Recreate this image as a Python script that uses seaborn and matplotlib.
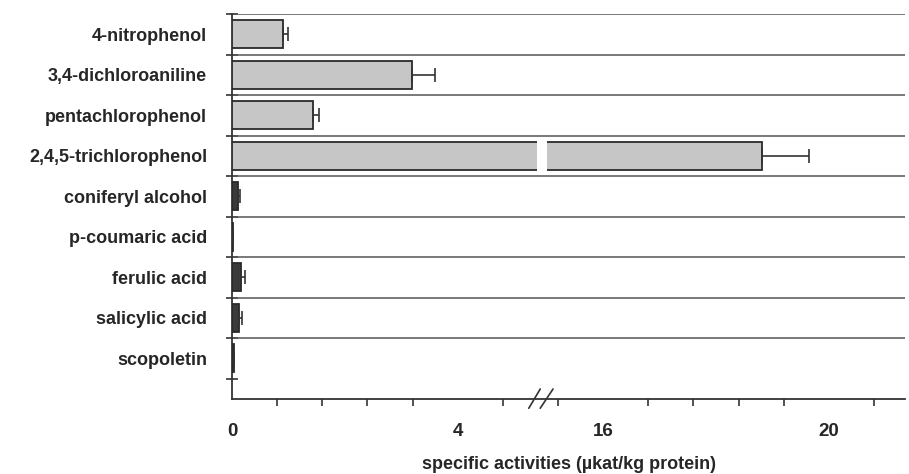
import numpy as np
import pandas as pd
import matplotlib
matplotlib.use("Agg")
import matplotlib.pyplot as plt
import seaborn as sns
from matplotlib.patches import Rectangle
from matplotlib.ticker import FixedLocator

# data
compounds = ["4-nitrophenol", "3,4-dichloroaniline", "pentachlorophenol",
             "2,4,5-trichlorophenol", "coniferyl alcohol", "p-coumaric acid",
             "ferulic acid", "salicylic acid", "scopoletin"]
activity = [0.90, 3.19, 1.44, 18.81, 0.10, 0.02, 0.16, 0.12, 0.03]
activity_err = [0.10, 0.41, 0.11, 0.83, 0.04, 0.0, 0.07, 0.06, 0.0]
major_ticks = [0, 4, 16, 20]
minor_ticks = [0.8, 1.6, 2.4, 3.2, 4.8, 15.2, 16.8, 17.6, 18.4, 19.2, 20.8]

# broken axis: [0, a] shown as is, (a, b) squeezed into gap g, [b, ...] shifted
a, b, g = 5.41, 15.01, 0.18
shift = b - (a + g)

def fwd(x):
    x = np.asarray(x, dtype=float)
    return np.where(x <= a, x, np.where(x >= b, x - shift, a + (x - a) * g / (b - a)))

def inv(t):
    t = np.asarray(t, dtype=float)
    return np.where(t <= a, t, np.where(t >= a + g, t + shift, a + (t - a) * (b - a) / g))

sns.set_style("white")
plt.rcParams['font.family'] = ['Liberation Sans', 'DejaVu Sans']
plt.rcParams['font.weight'] = 'bold'

df = pd.DataFrame({"compound": compounds, "activity": activity})
cols = ["#c6c6c6" if v > 0.5 else "#3a3a3a" for v in activity]

fig = plt.figure(figsize=(9.09, 4.74), dpi=100)
ax = fig.add_axes([232/909, 75/474, 673/909, 385/474])

sns.barplot(data=df, x="activity", y="compound", hue="compound", palette=cols,
            legend=False, orient="h", width=0.69, edgecolor="#2a2a2a",
            linewidth=1.3, ax=ax, zorder=3)
ax.errorbar(activity, np.arange(len(compounds)),
            xerr=[np.zeros(len(compounds)), activity_err],
            fmt="none", ecolor="#333333", elinewidth=1.2, capsize=5, capthick=1.2, zorder=4)

ax.set_xscale("function", functions=(fwd, inv))
ax.set_xlim(0, 21.35)
ax.set_ylim(9.0, -0.5)

# white gap in the long bar
ax.add_patch(Rectangle((a, 3 - 0.40), b - a, 0.80, facecolor="white",
                       edgecolor="none", zorder=5))

# separator lines between rows
for yb in np.arange(-0.5, 8.0, 1.0):
    ax.axhline(yb, color="#555555", lw=1.1, zorder=1)

for s in ["top", "right"]:
    ax.spines[s].set_visible(False)
for s in ["left", "bottom"]:
    ax.spines[s].set_color("#333333")
    ax.spines[s].set_linewidth(1.3)

ax.xaxis.set_major_locator(FixedLocator(major_ticks))
ax.xaxis.set_minor_locator(FixedLocator(minor_ticks))
ax.set_xticklabels([str(t) for t in major_ticks])
ax.tick_params(axis="x", which="major", direction="out", length=9, width=1.2,
               color="#333333", labelsize=13.5, pad=8)
ax.tick_params(axis="x", which="minor", direction="out", length=5, width=1.2,
               color="#333333", bottom=True)

ax.yaxis.set_minor_locator(FixedLocator(np.arange(-0.5, 9.0, 1.0)))
ax.tick_params(axis="y", which="major", length=0, labelsize=13, pad=18)
ax.tick_params(axis="y", which="minor", direction="inout", length=9, width=1.2,
               color="#333333", left=True)
ax.set_ylabel("")
ax.set_xlabel("specific activities (µkat/kg protein)", fontsize=13,
              fontweight="bold", labelpad=11.5)

# break marks on the x axis
for x0, x1 in [(0.441, 0.458), (0.458, 0.477)]:
    ax.plot([x0, x1], [-0.024, 0.026], transform=ax.transAxes, color="#333333",
            lw=1.2, clip_on=False, zorder=6)

fig.savefig("out.png", dpi=100)
